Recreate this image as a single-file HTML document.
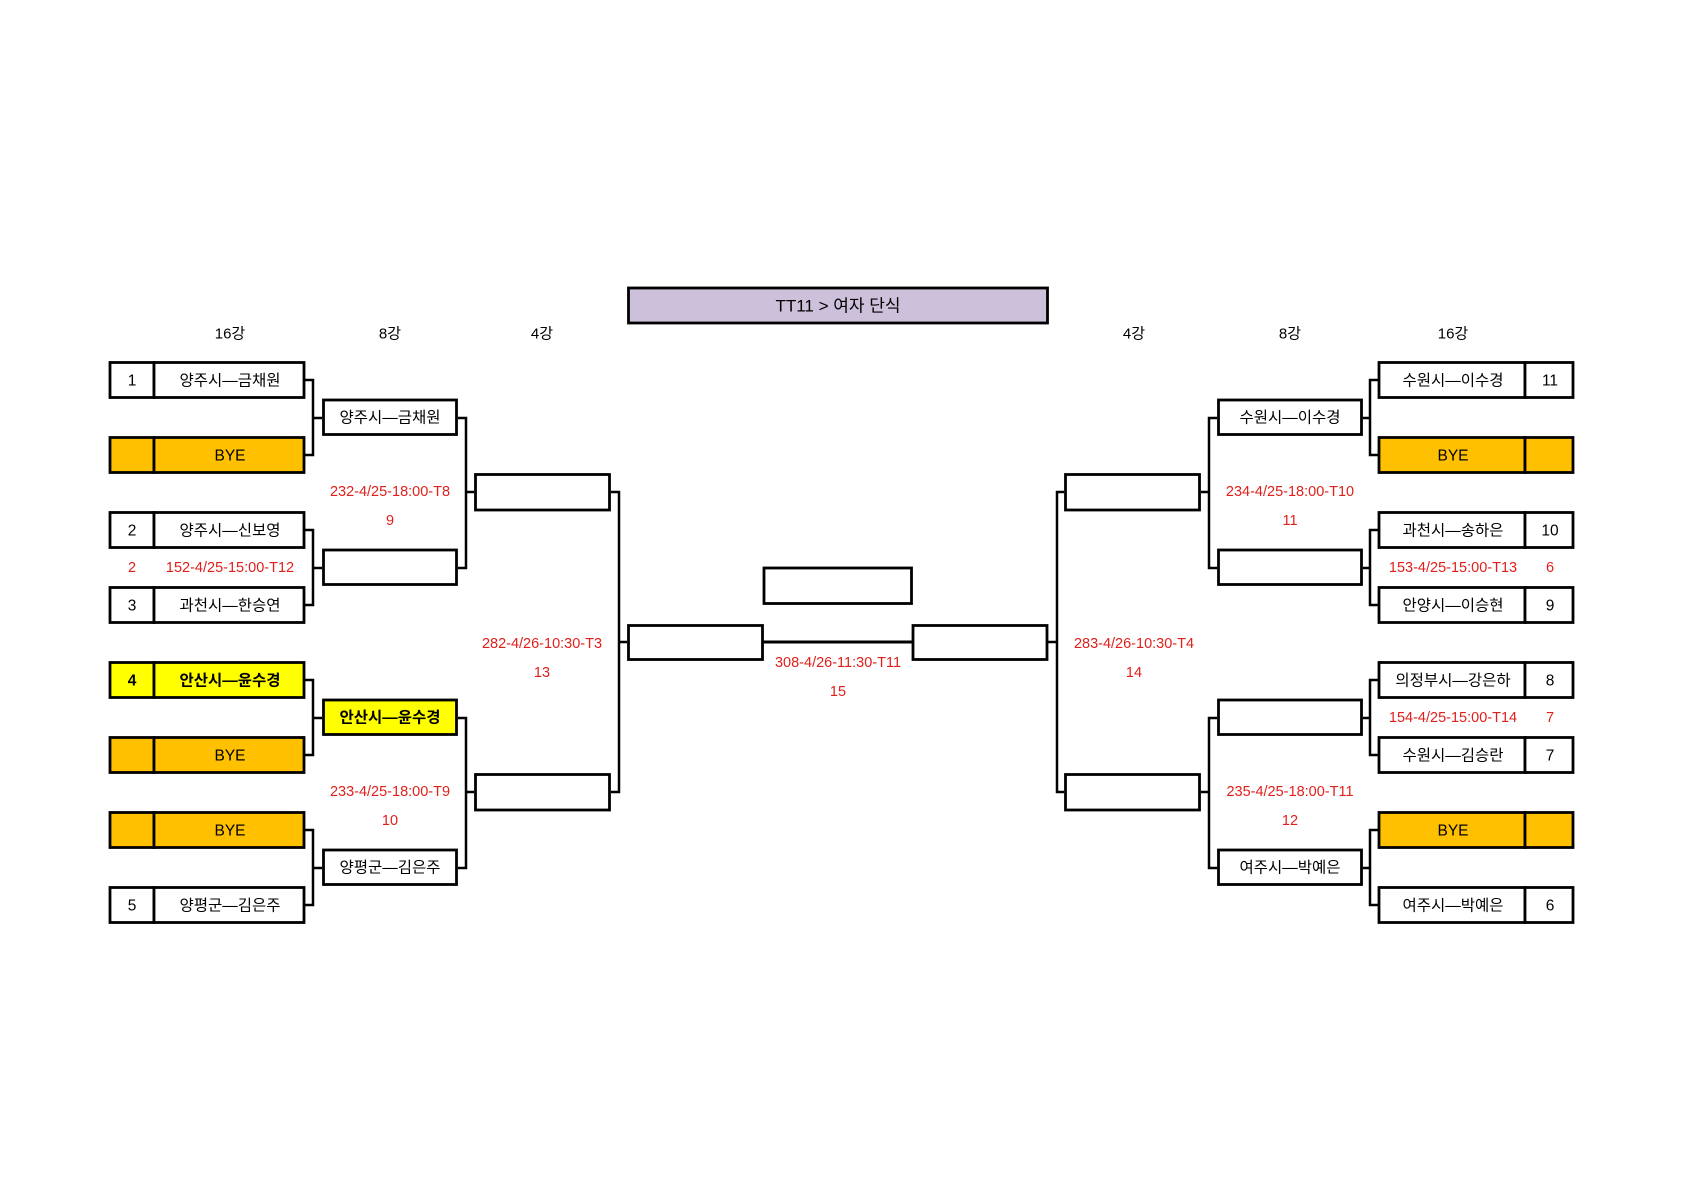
<!DOCTYPE html>
<html><head><meta charset="utf-8"><style>
html,body{margin:0;padding:0;background:#fff;}
svg{display:block}
text{font-family:"Liberation Sans","Noto Sans CJK KR",sans-serif;}
.n{font-size:15.5px;fill:#000;text-anchor:middle;dominant-baseline:central}
.b{font-weight:bold}
.r{font-size:14.5px;fill:#e0201c;text-anchor:middle;dominant-baseline:central}
.h{font-size:15px;fill:#000;text-anchor:middle;dominant-baseline:central}
rect{stroke:#000;stroke-width:2.8;}
path{stroke:#000;stroke-width:2.5;fill:none}
</style></head><body>
<svg width="1684" height="1190" viewBox="0 0 1684 1190" xmlns="http://www.w3.org/2000/svg">
<!-- title -->
<rect x="628.5" y="288" width="419" height="35" fill="#ccc0da"/>
<text class="h" x="838" y="306" style="font-size:17px">TT11 &gt; 여자 단식</text>
<!-- headers -->
<text class="h" x="230" y="334">16강</text>
<text class="h" x="390" y="334">8강</text>
<text class="h" x="542" y="334">4강</text>
<text class="h" x="1134" y="334">4강</text>
<text class="h" x="1290" y="334">8강</text>
<text class="h" x="1453" y="334">16강</text>

<!-- connectors -->
<path d="M305 380H313V455H305M313 418H322 M305 530H313V605H305M313 568H322 M305 680H313V755H305M313 718H322 M305 830H313V905H305M313 868H322"/>
<path d="M458 418H466V568H458M466 492H474 M458 718H466V868H458M466 792H474"/>
<path d="M611 492H619V792H611M619 642H627"/>
<path d="M763 642H913" style="stroke-width:3"/>
<path d="M1064 492H1057V792H1064M1057 642H1048"/>
<path d="M1217 418H1209V568H1217M1209 492H1201 M1217 718H1209V868H1217M1209 792H1201"/>
<path d="M1378 380H1370V455H1378M1370 418H1363 M1378 530H1370V605H1378M1370 568H1363 M1378 680H1370V755H1378M1370 718H1363 M1378 830H1370V905H1378M1370 868H1363"/>

<!-- left 16 -->
<g>
<rect x="110" y="362.5" width="44" height="35" fill="#fff"/><rect x="154" y="362.5" width="150" height="35" fill="#fff"/>
<text class="n" x="132" y="381">1</text><text class="n" x="230" y="381">양주시—금채원</text>
<rect x="110" y="437.5" width="44" height="35" fill="#ffc000"/><rect x="154" y="437.5" width="150" height="35" fill="#ffc000"/>
<text class="n" x="230" y="456">BYE</text>
<rect x="110" y="512.5" width="44" height="35" fill="#fff"/><rect x="154" y="512.5" width="150" height="35" fill="#fff"/>
<text class="n" x="132" y="531">2</text><text class="n" x="230" y="531">양주시—신보영</text>
<rect x="110" y="587.5" width="44" height="35" fill="#fff"/><rect x="154" y="587.5" width="150" height="35" fill="#fff"/>
<text class="n" x="132" y="606">3</text><text class="n" x="230" y="606">과천시—한승연</text>
<rect x="110" y="662.5" width="44" height="35" fill="#ffff00"/><rect x="154" y="662.5" width="150" height="35" fill="#ffff00"/>
<text class="n b" x="132" y="681">4</text><text class="n b" x="230" y="681">안산시—윤수경</text>
<rect x="110" y="737.5" width="44" height="35" fill="#ffc000"/><rect x="154" y="737.5" width="150" height="35" fill="#ffc000"/>
<text class="n" x="230" y="756">BYE</text>
<rect x="110" y="812.5" width="44" height="35" fill="#ffc000"/><rect x="154" y="812.5" width="150" height="35" fill="#ffc000"/>
<text class="n" x="230" y="831">BYE</text>
<rect x="110" y="887.5" width="44" height="35" fill="#fff"/><rect x="154" y="887.5" width="150" height="35" fill="#fff"/>
<text class="n" x="132" y="906">5</text><text class="n" x="230" y="906">양평군—김은주</text>
</g>
<text class="r" x="132" y="568">2</text><text class="r" x="230" y="568">152-4/25-15:00-T12</text>

<!-- left 8 -->
<rect x="323.5" y="400" width="133" height="34.5" fill="#fff"/><text class="n" x="390" y="418">양주시—금채원</text>
<rect x="323.5" y="550" width="133" height="34.5" fill="#fff"/>
<rect x="323.5" y="700" width="133" height="34.5" fill="#ffff00"/><text class="n b" x="390" y="718">안산시—윤수경</text>
<rect x="323.5" y="850" width="133" height="34.5" fill="#fff"/><text class="n" x="390" y="868">양평군—김은주</text>
<text class="r" x="390" y="492">232-4/25-18:00-T8</text><text class="r" x="390" y="521">9</text>
<text class="r" x="390" y="792">233-4/25-18:00-T9</text><text class="r" x="390" y="821">10</text>

<!-- left 4 -->
<rect x="475.5" y="474.5" width="134" height="35.5" fill="#fff"/>
<rect x="475.5" y="774.5" width="134" height="35.5" fill="#fff"/>
<text class="r" x="542" y="644">282-4/26-10:30-T3</text><text class="r" x="542" y="673">13</text>

<!-- center -->
<rect x="764" y="568" width="147.5" height="35.5" fill="#fff"/>
<rect x="628.5" y="625.5" width="134" height="34" fill="#fff"/>
<rect x="913" y="625.5" width="134" height="34" fill="#fff"/>
<text class="r" x="838" y="663">308-4/26-11:30-T11</text><text class="r" x="838" y="692">15</text>

<!-- right 4 -->
<rect x="1065.5" y="474.5" width="134" height="35.5" fill="#fff"/>
<rect x="1065.5" y="774.5" width="134" height="35.5" fill="#fff"/>
<text class="r" x="1134" y="644">283-4/26-10:30-T4</text><text class="r" x="1134" y="673">14</text>

<!-- right 8 -->
<rect x="1218.5" y="400" width="143" height="34.5" fill="#fff"/><text class="n" x="1290" y="418">수원시—이수경</text>
<rect x="1218.5" y="550" width="143" height="34.5" fill="#fff"/>
<rect x="1218.5" y="700" width="143" height="34.5" fill="#fff"/>
<rect x="1218.5" y="850" width="143" height="34.5" fill="#fff"/><text class="n" x="1290" y="868">여주시—박예은</text>
<text class="r" x="1290" y="492">234-4/25-18:00-T10</text><text class="r" x="1290" y="521">11</text>
<text class="r" x="1290" y="792">235-4/25-18:00-T11</text><text class="r" x="1290" y="821">12</text>

<!-- right 16 -->
<g>
<rect x="1379" y="362.5" width="146" height="35" fill="#fff"/><rect x="1525" y="362.5" width="48" height="35" fill="#fff"/>
<text class="n" x="1453" y="381">수원시—이수경</text><text class="n" x="1550" y="381">11</text>
<rect x="1379" y="437.5" width="146" height="35" fill="#ffc000"/><rect x="1525" y="437.5" width="48" height="35" fill="#ffc000"/>
<text class="n" x="1453" y="456">BYE</text>
<rect x="1379" y="512.5" width="146" height="35" fill="#fff"/><rect x="1525" y="512.5" width="48" height="35" fill="#fff"/>
<text class="n" x="1453" y="531">과천시—송하은</text><text class="n" x="1550" y="531">10</text>
<rect x="1379" y="587.5" width="146" height="35" fill="#fff"/><rect x="1525" y="587.5" width="48" height="35" fill="#fff"/>
<text class="n" x="1453" y="606">안양시—이승현</text><text class="n" x="1550" y="606">9</text>
<rect x="1379" y="662.5" width="146" height="35" fill="#fff"/><rect x="1525" y="662.5" width="48" height="35" fill="#fff"/>
<text class="n" x="1453" y="681">의정부시—강은하</text><text class="n" x="1550" y="681">8</text>
<rect x="1379" y="737.5" width="146" height="35" fill="#fff"/><rect x="1525" y="737.5" width="48" height="35" fill="#fff"/>
<text class="n" x="1453" y="756">수원시—김승란</text><text class="n" x="1550" y="756">7</text>
<rect x="1379" y="812.5" width="146" height="35" fill="#ffc000"/><rect x="1525" y="812.5" width="48" height="35" fill="#ffc000"/>
<text class="n" x="1453" y="831">BYE</text>
<rect x="1379" y="887.5" width="146" height="35" fill="#fff"/><rect x="1525" y="887.5" width="48" height="35" fill="#fff"/>
<text class="n" x="1453" y="906">여주시—박예은</text><text class="n" x="1550" y="906">6</text>
</g>
<text class="r" x="1453" y="568">153-4/25-15:00-T13</text><text class="r" x="1550" y="568">6</text>
<text class="r" x="1453" y="718">154-4/25-15:00-T14</text><text class="r" x="1550" y="718">7</text>
</svg>
</body></html>
